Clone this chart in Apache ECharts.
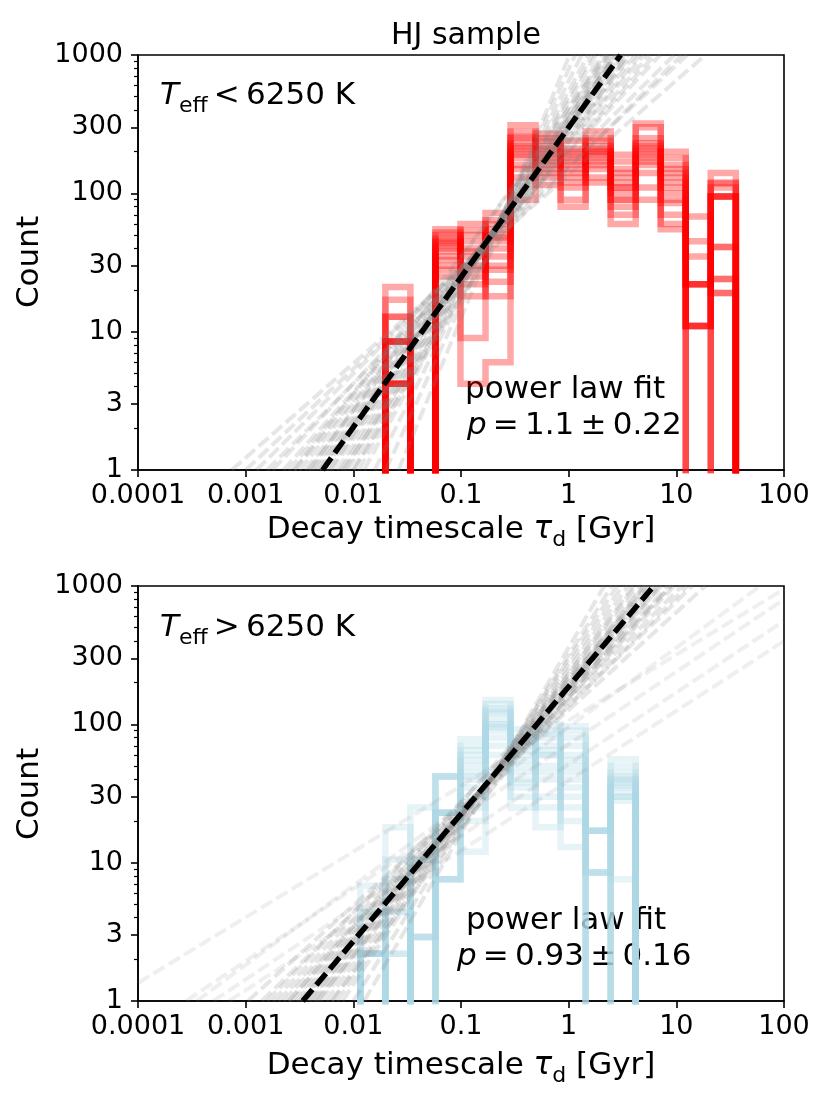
<!DOCTYPE html>
<html>
<head>
<meta charset="utf-8">
<script src="https://cdn.jsdelivr.net/npm/echarts@6/dist/echarts.min.js"></script>
<style>
  html, body { margin: 0; padding: 0; background: #fff; }
  #main { width: 830px; height: 1107px; }
</style>
</head>
<body>
<div id="main"></div>
<script>
// histogram bin edges, decay timescale [Gyr]
const binEdges = [0.01161, 0.01984, 0.03388, 0.05786, 0.09886, 0.1689, 0.2884, 0.4926,
  0.8414, 1.437, 2.455, 4.194, 7.161, 12.23, 20.89, 35.69];

// Teff < 6250 K : resampled histograms (one row per draw)
const topCounts = [
  [0, 8.5, 0, 45, 40, 50, 230, 190, 160, 200, 130, 220, 150, 22, 95],
  [0, 4.2, 0, 38, 30, 35, 200, 170, 130, 180, 110, 200, 120, 11, 24],
  [0, 8.5, 0, 50, 25, 60, 250, 220, 180, 150, 90, 250, 100, 0, 110],
  [0, 12.8, 0, 30, 50, 28, 180, 150, 200, 220, 150, 180, 180, 22, 41],
  [0, 4.2, 0, 42, 18, 45, 160, 240, 110, 170, 70, 140, 90, 11, 95],
  [0, 8.5, 0, 55, 35, 64, 257, 200, 150, 250, 120, 300, 140, 35, 19],
  [0, 17, 0, 35, 54, 23, 150, 180, 170, 190, 100, 160, 70, 0, 120],
  [0, 4.2, 0, 47, 22, 40, 210, 130, 90, 130, 60, 110, 160, 22, 95],
  [0, 8.5, 0, 40, 45, 55, 280, 160, 240, 210, 170, 230, 110, 11, 24],
  [0, 21, 0, 25, 9, 30, 190, 210, 140, 280, 90, 190, 200, 45, 140],
  [0, 4.2, 0, 52, 28, 72, 310, 250, 190, 120, 140, 210, 60, 22, 95],
  [0, 12.8, 0, 33, 60, 18, 130, 115, 80, 160, 190, 320, 130, 68, 19],
  [0, 8.5, 0, 44, 38, 48, 220, 270, 210, 240, 80, 90, 55, 11, 41],
  [0, 4.2, 0, 28, 4.2, 6, 90, 140, 120, 200, 110, 170, 85, 0, 118]
];

// Teff > 6250 K : resampled histograms
const bottomCounts = [
  [2.2, 0, 2.9, 23, 40, 100, 45, 60, 50, 17, 40],
  [2.2, 4.4, 0, 42, 70, 121, 60, 40, 30, 0, 30],
  [4.4, 0, 10.5, 7.6, 55, 70, 35, 80, 90, 8.5, 56],
  [2.2, 10.5, 0, 23, 30, 150, 80, 25, 60, 0, 35],
  [0, 2.2, 25, 7.6, 78, 90, 50, 100, 20, 17, 40],
  [6.8, 0, 0, 42, 45, 60, 25, 50, 45, 8.5, 7.6],
  [2.2, 18, 2.9, 23, 12, 140, 92, 70, 70, 0, 32],
  [2.2, 0, 10.5, 7.6, 65, 110, 40, 30, 97, 17, 45],
  [0, 7.6, 0, 23, 35, 45, 70, 90, 13, 8.5, 30],
  [4.4, 0, 2.9, 42, 50, 125, 30, 18, 40, 0, 38],
  [2.2, 2.2, 0, 7.6, 20, 80, 55, 60, 80, 17, 50],
  [2.2, 0, 10.5, 23, 60, 100, 65, 45, 25, 8.5, 28],
  [0, 4.4, 0, 42, 25, 130, 38, 85, 55, 0, 42],
  [2.2, 0, 2.9, 23, 42, 95, 75, 65, 35, 17, 36]
];

// best power-law fits: [tau, count] end points
const topFitBest = [[0.00518, 1], [3.04, 1000]];
const bottomFitBest = [[0.00339, 1], [6.17, 1000]];

// resampled fits: tau where the line crosses count = 1 and count = 1000
const topFitLow = [0.000741, 0.001, 0.00126, 0.00158, 0.00178, 0.00224, 0.00251, 0.00282,
  0.00316, 0.00355, 0.0038, 0.00417, 0.00447, 0.00479, 0.00501, 0.00525, 0.00562, 0.00603,
  0.00631, 0.00708, 0.00759, 0.00832, 0.00891, 0.01, 0.0112, 0.0126, 0.0158, 0.02, 0.0263,
  0.00398, 0.00794, 0.00282, 0.01];
const topFitHigh = [18.6, 12.6, 9.55, 11.2, 7.08, 6.31, 5.01, 5.62,
  4.17, 4.57, 3.55, 3.8, 3.31, 3.16, 2.95, 2.75, 3.02, 2.51,
  2.69, 2.29, 2.4, 2.0, 2.14, 1.78, 1.66, 1.51, 1.32, 1.15, 1.02,
  2.24, 3.55, 2.82, 2.63];
const bottomFitLow = [0.00105, 0.00141, 0.00178, 0.002, 0.00224, 0.00251, 0.00269, 0.00295,
  0.00316, 0.00331, 0.00355, 0.0038, 0.00398, 0.00427, 0.00468, 0.00501, 0.00562, 0.00631,
  0.00708, 0.00794, 0.01, 0.0126, 0.00251, 0.00447, 0.00631, 0.00158];
const bottomFitHigh = [18.6, 14.1, 11.2, 12.6, 9.55, 8.32, 8.91, 7.24,
  6.76, 6.31, 5.75, 6.03, 5.25, 5.01, 4.57, 4.17, 3.98, 3.55,
  3.16, 2.82, 2.51, 2.14, 5.62, 7.08, 5.01, 8.91];
// shallow outliers in the hot sample: [tau, count] start and end
const bottomFitShallow = [
  [[0.0001, 1.35], [100, 950]],
  [[0.00028, 1], [100, 800]],
  [[0.0005, 1], [100, 560]],
  [[0.0007, 1], [100, 400]],
  [[0.00035, 1], [60, 1000]]
];

const xTickValues = [-4, -3, -2, -1, 0, 1, 2];
const xTickLabels = ['0.0001', '0.001', '0.01', '0.1', '1', '10', '100'];
const yTickValues = [1, 3, 10, 30, 100, 300, 1000];
const yMinorValues = [2, 4, 5, 6, 7, 8, 9, 20, 40, 50, 60, 70, 80, 90,
  200, 400, 500, 600, 700, 800, 900];

const FONT = 'DejaVu Sans';
const FLOOR = 0.1; // empty bins drop below the log axis and get clipped
const GREY = 'rgba(128,128,128,0.2)';
const TS = '\u2009'; // thin space, like mathtext spacing

const chart = echarts.init(document.getElementById('main'));

function histSeries(counts, xi, yi, color) {
  const n = counts.length;
  const pts = [[binEdges[0], FLOOR]];
  counts.forEach((c, k) => pts.push([binEdges[k], c > 0 ? c : FLOOR]));
  pts.push([binEdges[n], counts[n - 1] > 0 ? counts[n - 1] : FLOOR]);
  pts.push([binEdges[n], FLOOR]);
  return {
    type: 'line', xAxisIndex: xi, yAxisIndex: yi, step: 'end', data: pts,
    symbol: 'none', silent: true,
    lineStyle: { color: color, width: 6.5, join: 'miter', cap: 'butt' }
  };
}

function fitSeries(pts, xi, yi, color, width, dash) {
  return {
    type: 'line', xAxisIndex: xi, yAxisIndex: yi, data: pts,
    symbol: 'none', silent: true,
    lineStyle: { color: color, width: width, type: dash, cap: 'butt' }
  };
}

const series = [];
topCounts.forEach(c => series.push(histSeries(c, 0, 0, 'rgba(255,0,0,0.34)')));
topFitLow.forEach((lo, i) => series.push(
  fitSeries([[lo, 1], [topFitHigh[i], 1000]], 0, 0, GREY, 4, [13, 5])));
series.push(fitSeries(topFitBest, 0, 0, '#000', 5.5, [15, 6]));

bottomCounts.forEach(c => series.push(histSeries(c, 2, 3, 'rgba(173,216,230,0.3)')));
bottomFitLow.forEach((lo, i) => series.push(
  fitSeries([[lo, 1], [bottomFitHigh[i], 1000]], 2, 3, GREY, 4, [13, 5])));
bottomFitShallow.forEach(p => series.push(fitSeries(p, 2, 3, 'rgba(128,128,128,0.13)', 4, [13, 5])));
series.push(fitSeries(bottomFitBest, 2, 3, '#000', 5.5, [15, 6]));

const tickStyle = { color: '#000', width: 1.6 };

function xAxes(gi) {
  return [
    { type: 'log', logBase: 10, gridIndex: gi, min: 0.0001, max: 100, show: false },
    {
      type: 'value', gridIndex: gi, position: 'bottom', min: -4, max: 2, interval: 1,
      axisLine: { show: true, lineStyle: tickStyle },
      axisTick: { show: true, length: 7, lineStyle: tickStyle },
      splitLine: { show: false },
      axisLabel: {
        margin: 12, fontSize: 27, fontFamily: FONT, color: '#000',
        formatter: v => xTickLabels[xTickValues.indexOf(Math.round(v))]
      }
    }
  ];
}

function yAxes(gi) {
  return [
    { type: 'log', logBase: 10, gridIndex: gi, min: 1, max: 1000, show: false },
    {
      type: 'value', gridIndex: gi, position: 'left', min: 0, max: 3,
      axisLine: { show: true, lineStyle: tickStyle },
      axisTick: { show: true, length: 7, lineStyle: tickStyle,
        customValues: yTickValues.map(Math.log10) },
      splitLine: { show: false },
      axisLabel: {
        margin: 15, fontSize: 27, fontFamily: FONT, color: '#000',
        customValues: yTickValues.map(Math.log10),
        formatter: v => String(Math.round(Math.pow(10, v)))
      }
    },
    {
      type: 'value', gridIndex: gi, position: 'left', min: 0, max: 3,
      axisLine: { show: false },
      axisTick: { show: true, length: 4, lineStyle: { color: '#000', width: 1.2 },
        customValues: yMinorValues.map(Math.log10) },
      splitLine: { show: false },
      axisLabel: { show: false }
    }
  ];
}

const italic = { fontFamily: FONT, fontStyle: 'italic', fontSize: 31, lineHeight: 42 };
const plain = { fontFamily: FONT, fontSize: 31, lineHeight: 42 };
const sub = { fontFamily: FONT, fontSize: 22, lineHeight: 22, verticalAlign: 'bottom' };

function label(x, y, text, rot, align) {
  return {
    type: 'text', x: x, y: y, rotation: rot || 0, silent: true,
    style: {
      text: text, fill: '#000', align: align || 'left', verticalAlign: 'middle',
      fontFamily: FONT, fontSize: 31,
      rich: { i: italic, n: plain, s: sub }
    }
  };
}

chart.setOption({
  animation: false,
  backgroundColor: '#fff',
  title: {
    text: 'HJ sample', left: 461, top: 16, textAlign: 'center',
    textStyle: { fontFamily: FONT, fontSize: 30, fontWeight: 'normal', color: '#000' }
  },
  grid: [
    { left: 138, top: 55, width: 646, height: 415, show: true, borderColor: '#000', borderWidth: 1.6 },
    { left: 138, top: 586, width: 646, height: 415, show: true, borderColor: '#000', borderWidth: 1.6 }
  ],
  xAxis: [...xAxes(0), ...xAxes(1)],
  yAxis: [...yAxes(0), ...yAxes(1)],
  series: series,
  graphic: [
    label(160, 96, '{i|T}{s|eff}{n|' + TS + '<' + TS + '6250 K}'),
    label(465, 390, '{n|power law fit}'),
    label(467, 426, '{i|p}{n|' + TS + '=' + TS + '1.1' + TS + '±' + TS + '0.22}'),
    label(461, 530, '{n|Decay timescale }{i|τ}{s|d}{n| [Gyr]}', 0, 'center'),
    label(30, 262, '{n|Count}', Math.PI / 2, 'center'),

    label(160, 628, '{i|T}{s|eff}{n|' + TS + '>' + TS + '6250 K}'),
    label(466, 921, '{n|power law fit}'),
    label(457, 957, '{i|p}{n|' + TS + '=' + TS + '0.93' + TS + '±' + TS + '0.16}'),
    label(461, 1066, '{n|Decay timescale }{i|τ}{s|d}{n| [Gyr]}', 0, 'center'),
    label(30, 794, '{n|Count}', Math.PI / 2, 'center')
  ]
});
</script>
</body>
</html>
